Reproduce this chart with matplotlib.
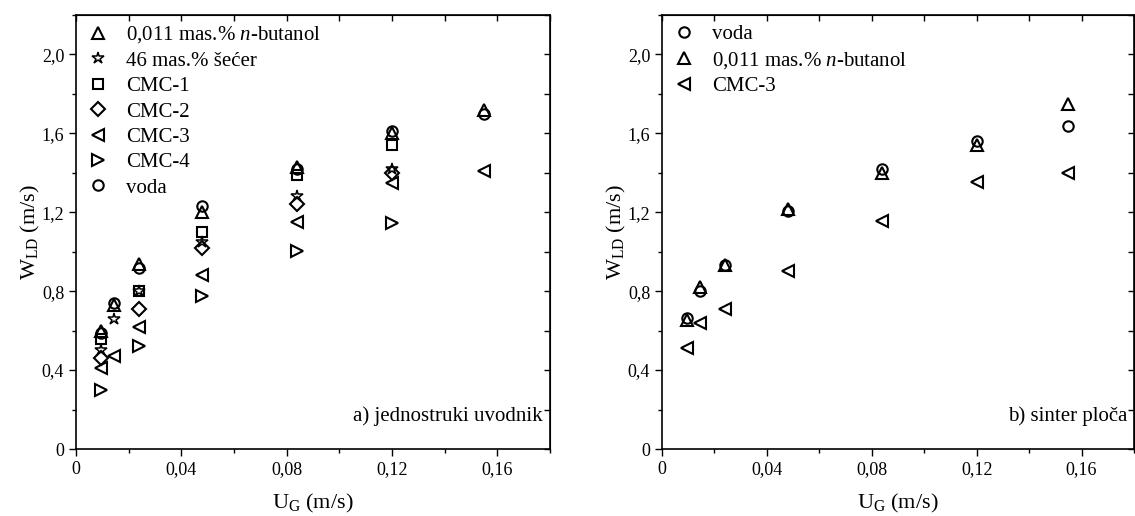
import matplotlib
matplotlib.use("Agg")
import matplotlib.pyplot as plt
from matplotlib.ticker import MultipleLocator, FuncFormatter

plt.rcParams['font.family'] = ['Liberation Serif', 'DejaVu Serif']
plt.rcParams['mathtext.fontset'] = 'custom'
plt.rcParams['mathtext.rm'] = 'Liberation Serif'
plt.rcParams['mathtext.it'] = 'Liberation Serif:italic'

# ---------------- data: panel a) jednostruki uvodnik ----------------
a_butanol_x = [0.0095, 0.0145, 0.024, 0.048, 0.084, 0.12, 0.155]
a_butanol_y = [0.60, 0.73, 0.94, 1.20, 1.43, 1.60, 1.72]
a_secer_x = [0.0095, 0.0145, 0.024, 0.048, 0.084, 0.12]
a_secer_y = [0.50, 0.66, 0.80, 1.05, 1.28, 1.42]
a_cmc1_x = [0.0095, 0.024, 0.048, 0.084, 0.12]
a_cmc1_y = [0.56, 0.80, 1.10, 1.39, 1.54]
a_cmc2_x = [0.0095, 0.024, 0.048, 0.084, 0.12]
a_cmc2_y = [0.46, 0.71, 1.02, 1.24, 1.40]
a_cmc3_x = [0.0095, 0.0145, 0.024, 0.048, 0.084, 0.12, 0.155]
a_cmc3_y = [0.41, 0.47, 0.62, 0.88, 1.15, 1.35, 1.41]
a_cmc4_x = [0.0095, 0.024, 0.048, 0.084, 0.12]
a_cmc4_y = [0.30, 0.52, 0.775, 1.005, 1.145]
a_voda_x = [0.0095, 0.0145, 0.024, 0.048, 0.084, 0.12, 0.155]
a_voda_y = [0.59, 0.74, 0.915, 1.23, 1.42, 1.61, 1.70]

# ---------------- data: panel b) sinter ploča ----------------
b_voda_x = [0.0095, 0.0145, 0.024, 0.048, 0.084, 0.12, 0.155]
b_voda_y = [0.665, 0.80, 0.935, 1.205, 1.42, 1.56, 1.635]
b_butanol_x = [0.0095, 0.0145, 0.024, 0.048, 0.084, 0.12, 0.155]
b_butanol_y = [0.655, 0.82, 0.935, 1.215, 1.40, 1.54, 1.75]
b_cmc3_x = [0.0095, 0.0145, 0.024, 0.048, 0.084, 0.12, 0.155]
b_cmc3_y = [0.51, 0.64, 0.71, 0.90, 1.155, 1.355, 1.40]

x_ticks = [0, 0.04, 0.08, 0.12, 0.16]
y_ticks = [0, 0.4, 0.8, 1.2, 1.6, 2.0]

W, H = 1135, 516
fig = plt.figure(figsize=(W / 100, H / 100), dpi=100)
ax1 = fig.add_axes([76 / W, (H - 449) / H, 474 / W, 434 / H])
ax2 = fig.add_axes([662 / W, (H - 449) / H, 472 / W, 434 / H])

mk = dict(linestyle='none', mfc='none', mec='black', mew=1.5, ms=8)


def xfmt(v, pos):
    if abs(v) < 1e-9:
        return '0'
    return f'{v:.2f}'.replace('.', ',')


def yfmt(v, pos):
    if abs(v) < 1e-9:
        return '0'
    return f'{v:.1f}'.replace('.', ',')


def style(ax):
    ax.set_xlim(0, 0.18)
    ax.set_ylim(0, 2.2)
    ax.set_xticks(x_ticks)
    ax.set_yticks(y_ticks)
    ax.xaxis.set_minor_locator(MultipleLocator(0.02))
    ax.yaxis.set_minor_locator(MultipleLocator(0.2))
    ax.xaxis.set_major_formatter(FuncFormatter(xfmt))
    ax.yaxis.set_major_formatter(FuncFormatter(yfmt))
    ax.tick_params(which='both', direction='out', labelsize=13, width=1,
                   top=False, right=False)
    ax.tick_params(which='major', length=5)
    ax.tick_params(which='minor', length=3)
    sec_x = ax.secondary_xaxis('top')
    sec_x.set_xticks(x_ticks)
    sec_x.xaxis.set_minor_locator(MultipleLocator(0.02))
    sec_x.tick_params(which='both', direction='in', labeltop=False, length=4, width=1)
    sec_x.set_xticklabels([])
    sec_y = ax.secondary_yaxis('right')
    sec_y.set_yticks(y_ticks)
    sec_y.yaxis.set_minor_locator(MultipleLocator(0.2))
    sec_y.tick_params(which='both', direction='in', labelright=False, length=4, width=1)
    sec_y.set_yticklabels([])
    for sp in ax.spines.values():
        sp.set_linewidth(1.2)
    ax.set_xlabel(r'U$_{\mathrm{G}}$ (m/s)', fontsize=16, labelpad=10)
    ax.set_ylabel(r'W$_{\mathrm{LD}}$ (m/s)', fontsize=16, labelpad=0)


leg_kw = dict(loc='upper left', bbox_to_anchor=(0.0, 1.0), frameon=False, fontsize=15,
              handlelength=1.2, handletextpad=0.75, labelspacing=0.28, borderaxespad=0.15,
              borderpad=0.3)

# panel a
ax1.plot(a_butanol_x, a_butanol_y, marker='^', label='0,011 mas.% $\\mathit{n}$-butanol', **mk)
ax1.plot(a_secer_x, a_secer_y, marker='*', label='46 mas.% šećer', **{**mk, 'ms': 9, 'mew': 1.1})
ax1.plot(a_cmc1_x, a_cmc1_y, marker='s', label='CMC-1', **{**mk, 'ms': 7})
ax1.plot(a_cmc2_x, a_cmc2_y, marker='D', label='CMC-2', **{**mk, 'ms': 7})
ax1.plot(a_cmc3_x, a_cmc3_y, marker='<', label='CMC-3', **mk)
ax1.plot(a_cmc4_x, a_cmc4_y, marker='>', label='CMC-4', **mk)
ax1.plot(a_voda_x, a_voda_y, marker='o', label='voda', **{**mk, 'ms': 7.5})
style(ax1)
ax1.legend(**leg_kw)
ax1.text(0.985, 0.075, 'a) jednostruki uvodnik', transform=ax1.transAxes,
         ha='right', va='center', fontsize=15)

# panel b
ax2.plot(b_voda_x, b_voda_y, marker='o', label='voda', **{**mk, 'ms': 7.5})
ax2.plot(b_butanol_x, b_butanol_y, marker='^', label='0,011 mas.% $\\mathit{n}$-butanol', **mk)
ax2.plot(b_cmc3_x, b_cmc3_y, marker='<', label='CMC-3', **mk)
style(ax2)
ax2.legend(**leg_kw)
ax2.text(0.985, 0.075, 'b) sinter ploča', transform=ax2.transAxes,
         ha='right', va='center', fontsize=15)

fig.savefig('out.png', dpi=100)
